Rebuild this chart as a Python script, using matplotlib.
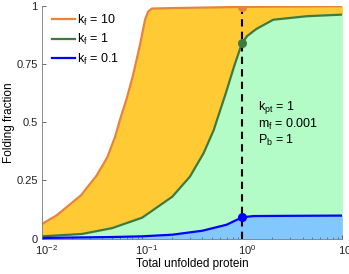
#!/usr/bin/env python
'''
folding fraction vs total unfolded protein, three k_f values
'''
import numpy
import matplotlib
matplotlib.use('Agg')
import matplotlib.pyplot as plt
import matplotlib.transforms as mtransforms

plt.rcParams['font.family'] = ['Liberation Sans', 'DejaVu Sans']
plt.rcParams['mathtext.fontset'] = 'custom'
plt.rcParams['mathtext.rm'] = 'Liberation Sans'
plt.rcParams['mathtext.it'] = 'Liberation Sans'

# values (x = total unfolded protein)
x_kf10 = [0.01, 0.014, 0.0245, 0.035, 0.045, 0.054, 0.06, 0.07, 0.081, 0.095,
          0.107, 0.115, 0.125, 0.2, 1.0, 10.0]
y_kf10 = [0.063, 0.10, 0.186, 0.27, 0.35, 0.44, 0.51, 0.60, 0.70, 0.83,
          0.94, 0.975, 0.988, 0.99, 0.995, 0.998]

x_kf1 = [0.01, 0.025, 0.05, 0.1, 0.2, 0.3, 0.41, 0.52, 0.56, 0.68, 0.83, 0.96, 1.0,
         1.12, 1.38, 2.04, 4.4, 10.0]
y_kf1 = [0.01, 0.02, 0.045, 0.09, 0.18, 0.266, 0.366, 0.467, 0.51, 0.62, 0.74, 0.82, 0.84,
         0.87, 0.90, 0.94, 0.955, 0.962]

x_kf01 = [0.01, 0.05, 0.1, 0.2, 0.4, 0.7, 1.0, 1.3, 3.0, 10.0]
y_kf01 = [0.003, 0.007, 0.01, 0.017, 0.034, 0.060, 0.092, 0.097, 0.098, 0.099]

labels = ['k$_\\mathrm{f}$ = 10', 'k$_\\mathrm{f}$ = 1', 'k$_\\mathrm{f}$ = 0.1']
line_colors = ['#E8833A', '#3D7A3F', '#0000FF']
fill_colors = ['#FFCA33', '#B3FCC8', '#82C8FF']

xticks = [0.01, 0.1, 1, 10]
xticklabels = ['10$^{-2}$', '10$^{-1}$', '10$^{0}$', '10$^{1}$']
yticks = [0, 0.25, 0.5, 0.75, 1]
yticklabels = ['0', '0.25', '0.5', '0.75', '1']

x_mark = 1.0
params_text = 'k$_\\mathrm{pt}$ = 1\nm$_\\mathrm{f}$ = 0.001\nP$_\\mathrm{b}$ = 1'


def main():
    fig = plt.figure(figsize=(3.49, 2.74), dpi=100)
    ax = fig.add_axes([0.1203, 0.129, 0.8607, 0.85])

    xg = numpy.logspace(-2, 1, 400)
    lx = numpy.log10(xg)
    y10 = numpy.interp(lx, numpy.log10(x_kf10), y_kf10)
    y1 = numpy.interp(lx, numpy.log10(x_kf1), y_kf1)
    y01 = numpy.interp(lx, numpy.log10(x_kf01), y_kf01)

    ax.fill_between(xg, y1, y10, color=fill_colors[0], lw=0)
    ax.fill_between(xg, y01, y1, color=fill_colors[1], lw=0)
    ax.fill_between(xg, 0, y01, color=fill_colors[2], lw=0)

    ax.plot(x_kf10, y_kf10, color=line_colors[0], lw=1.6, label=labels[0])
    ax.plot(x_kf1, y_kf1, color=line_colors[1], lw=1.6, label=labels[1])
    ax.plot(x_kf01, y_kf01, color=line_colors[2], lw=1.6, label=labels[2])

    ym = [numpy.interp(0, numpy.log10(x), y) for x, y in
          [(x_kf10, y_kf10), (x_kf1, y_kf1), (x_kf01, y_kf01)]]
    ax.plot([x_mark, x_mark], [0, ym[0]], color='k', lw=1.5, ls=(0, (3.5, 2.5)))
    for y, c in zip(ym, line_colors):
        ax.plot(x_mark, y, 'o', color=c, ms=5.5)

    ax.text(0.718, 0.6, params_text, transform=ax.transAxes, fontsize=9,
            va='top', ha='left', linespacing=1.1)

    ax.set_xscale('log')
    ax.set_xlim(0.01, 10)
    ax.set_ylim(0, 1)
    ax.set_xticks(xticks)
    ax.set_xticklabels(xticklabels)
    ax.set_yticks(yticks)
    ax.set_yticklabels(yticklabels)
    ax.set_xlabel('Total unfolded protein', fontsize=8.5, labelpad=1)
    ax.set_ylabel('Folding fraction', fontsize=8.5, labelpad=1)
    ax.tick_params(direction='in', labelsize=8, colors='#555555', labelcolor='#222222',
                   length=3, width=0.6, pad=3)
    ax.tick_params(which='minor', direction='in', length=1.8, width=0.5, colors='#555555')
    # base "10" centred on the tick, exponent hanging to the right
    shift = mtransforms.ScaledTranslation(3.5 / 72, 0, fig.dpi_scale_trans)
    for lab in ax.get_xticklabels():
        lab.set_transform(lab.get_transform() + shift)
    for s in ['top', 'right']:
        ax.spines[s].set_visible(False)
    for s in ['left', 'bottom']:
        ax.spines[s].set_color('#777777')
        ax.spines[s].set_linewidth(0.6)

    ax.legend(loc='upper left', frameon=False, fontsize=9, handlelength=1.85,
              handletextpad=0.15, labelspacing=0.35, borderaxespad=0.0,
              borderpad=0.0, bbox_to_anchor=(0.033, 0.97))

    fig.savefig('out.png', dpi=100)


if __name__ == '__main__':
    main()
